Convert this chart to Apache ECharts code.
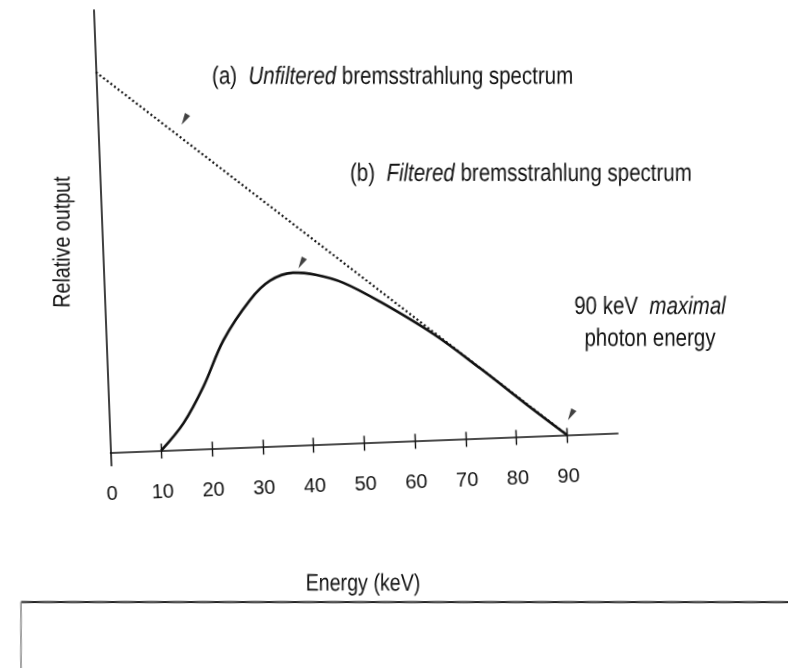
<!DOCTYPE html>
<html><head><meta charset="utf-8">
<script src="https://cdn.jsdelivr.net/npm/echarts@6/dist/echarts.min.js"></script>
<style>
html,body{margin:0;padding:0;background:#fff;overflow:hidden;width:788px;height:668px;}
#chart{position:absolute;left:0;top:0;width:788px;height:668px;transform-origin:110.5px 452.5px;transform:rotate(-2.2deg);}
</style></head><body><div id="chart"></div>
<script>
// ---- data ----
const energyTicks = [10, 20, 30, 40, 50, 60, 70, 80, 90];
const energyLabels = [0, 10, 20, 30, 40, 50, 60, 70, 80, 90];
const unfilteredEnergy = [0, 90];
const unfilteredOutput = [86, 0];
const filteredEnergy = [10, 14.6, 18.8, 23.1, 28.6, 32.7, 37.3, 41.9, 47.1, 54.2, 64.4, 73.4, 82.3, 90];
const filteredOutput = [0, 6.0, 14.1, 24.4, 33.2, 37.4, 39.0, 38.3, 36.3, 31.7, 24.0, 15.8, 7.2, 0];
const markerEnergy = [17.1, 39.0, 90.9];
const markerOutput = [74.5, 41.1, 4.5];

// ---- layout helpers ----
const TILT = 2.2 * Math.PI / 180;          // scan tilt of the axes
const OX = 110.5, OY = 452.5;               // rotation origin (axis origin)
function hasFont(name) {
  const c = document.createElement('canvas').getContext('2d');
  const t = 'mmmmmmmmmmlli1234567890WWW';
  c.font = '40px monospace'; const w1 = c.measureText(t).width;
  c.font = '40px "' + name + '", monospace'; const w2 = c.measureText(t).width;
  return Math.abs(w1 - w2) > 0.5;
}
const NARROW = hasFont('Liberation Sans Narrow');
const FAM = NARROW ? '"Liberation Sans Narrow", "Liberation Sans", Arial, sans-serif' : '"Liberation Sans", Arial, sans-serif';
const SX = NARROW ? 1 : 0.82;
// page position -> position inside the rotated chart container
function loc(px, py) {
  const dx = px - OX, dy = py - OY;
  const c = Math.cos(TILT), s = Math.sin(TILT);
  return [OX + dx * c - dy * s, OY + dx * s + dy * c];
}
function txt(px, py, text, opt) {
  const p = loc(px, py);
  opt = opt || {};
  return {
    type: 'text', x: p[0], y: p[1], rotation: (opt.rot || 0) - TILT, scaleX: SX, z: 10,
    style: {
      text: text, fill: '#111', font: (opt.size || 25) + 'px ' + FAM,
      textAlign: opt.align || 'left', textVerticalAlign: 'middle',
      rich: {
        n: { fontSize: opt.size || 25, fontFamily: FAM, fill: '#111' },
        i: { fontSize: opt.size || 25, fontFamily: FAM, fontStyle: 'italic', fill: '#111' }
      }
    }
  };
}

const chart = echarts.init(document.getElementById('chart'), null, { renderer: 'canvas' });
const gridLeft = 110.5, gridTop = 9.9, gridW = 507.7, gridH = 455.9;
const boxP = loc(21, 602);

const option = {
  backgroundColor: 'transparent',
  animation: false,
  grid: { left: gridLeft, top: gridTop, width: gridW, height: gridH, containLabel: false },
  xAxis: [{
    type: 'value', min: 0, max: 100, interval: 10,
    axisLine: { show: true, onZero: true, onZeroAxisIndex: 0, lineStyle: { color: '#111', width: 1.6 } },
    axisTick: { show: true, customValues: energyTicks, length: 8, inside: false, lineStyle: { color: '#111', width: 1.4 } },
    axisLabel: { show: true, customValues: energyLabels, margin: 19, fontSize: NARROW ? 24 : 20, fontFamily: FAM, color: '#111' },
    splitLine: { show: false }
  }, {
    type: 'value', min: 0, max: 100, interval: 10, position: 'bottom',
    axisLine: { show: false, onZero: true, onZeroAxisIndex: 0 },
    axisTick: { show: true, customValues: energyTicks, length: 7, inside: true, lineStyle: { color: '#111', width: 1.4 } },
    axisLabel: { show: false },
    splitLine: { show: false }
  }],
  yAxis: {
    type: 'value', min: -3, max: 100,
    axisLine: { show: true, onZero: false, lineStyle: { color: '#111', width: 1.6 } },
    axisTick: { show: false }, axisLabel: { show: false }, splitLine: { show: false }
  },
  series: [{
    name: 'Unfiltered', type: 'line', xAxisIndex: 0, symbol: 'none',
    data: unfilteredEnergy.map((e, i) => [e, unfilteredOutput[i]]),
    lineStyle: { color: '#111', width: 2.2, type: [2, 2.6] }
  }, {
    name: 'Filtered', type: 'line', xAxisIndex: 0, symbol: 'none', smooth: 0.35,
    data: filteredEnergy.map((e, i) => [e, filteredOutput[i]]),
    lineStyle: { color: '#111', width: 2.6 }
  }, {
    name: 'Markers', type: 'scatter', xAxisIndex: 0,
    symbol: 'path://M0,0 L10,0 L5,22 Z', symbolSize: [6, 12], symbolRotate: -32,
    itemStyle: { color: '#111' },
    data: markerEnergy.map((e, i) => [e, markerOutput[i]])
  }],
  graphic: [
    txt(212, 77, '{n|(a)  }{i|Unfiltered}{n| bremsstrahlung spectrum}'),
    txt(350, 174, '{n|(b)  }{i|Filtered}{n| bremsstrahlung spectrum}'),
    txt(650, 307, '{n|90 keV  }{i|maximal}', { align: 'center', size: 25 }),
    txt(650, 339, '{n|photon energy}', { align: 'center', size: 25 }),
    txt(63, 242, '{n|Relative output}', { align: 'center', size: 24, rot: Math.PI / 2 }),
    txt(363, 584, '{n|Energy (keV)}', { align: 'center', size: 24 }),
    { type: 'line', x: boxP[0], y: boxP[1], rotation: -TILT, shape: { x1: 0, y1: 0, x2: 820, y2: 0 }, style: { stroke: '#222', lineWidth: 2 } },
    { type: 'line', x: boxP[0], y: boxP[1], rotation: -TILT, shape: { x1: 0, y1: 0, x2: 0, y2: 120 }, style: { stroke: '#888', lineWidth: 1.5 } }
  ]
};
chart.setOption(option);
</script></body></html>
